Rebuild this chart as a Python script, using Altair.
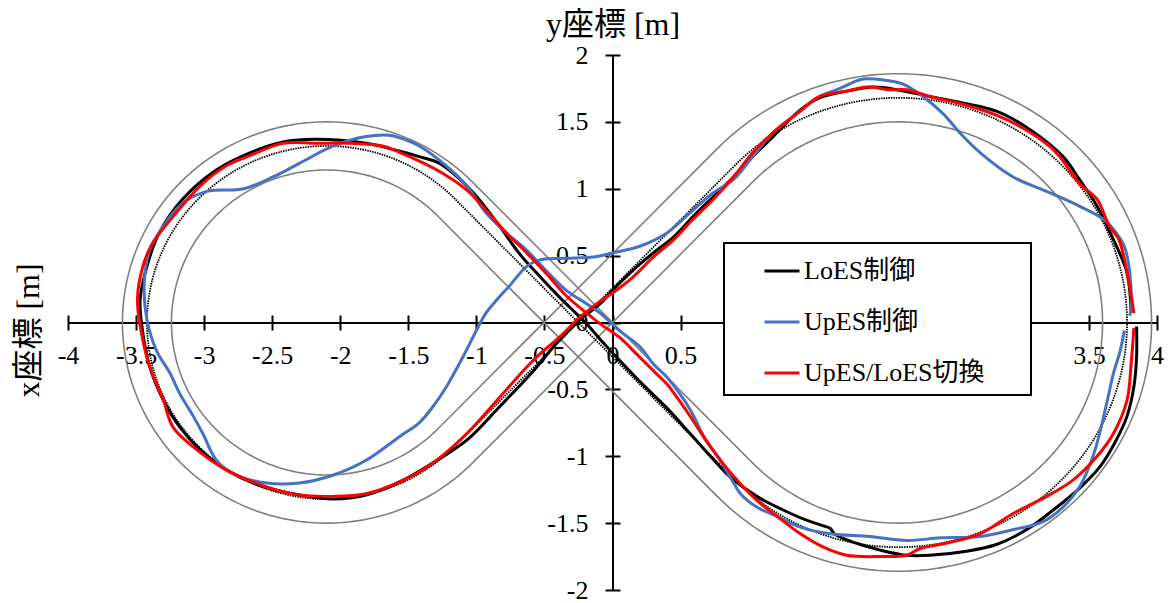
import numpy as np
import pandas as pd
import altair as alt

# ---- course layout (figure-eight: two loops joined by crossing straights) ----
LOOP_CENTER_X = 2.1                 # loops centred at (-2.1, 0) and (2.1, 0)
REFERENCE_RADII = (1.32, 1.68)      # target path (left loop, right loop)
EDGE_A_RADII = (1.50, 1.50)         # lane edge: left outer / right inner
EDGE_B_RADII = (1.14, 1.86)         # lane edge: left inner / right outer

# ---- measured trajectories ----
loes_x = [3.85, 3.85, 3.83, 3.78, 3.70, 3.58, 3.43, 3.24, 3.04, 2.82, 2.60, 2.33, 2.16, 1.96,
          1.89, 1.79, 1.63, 1.60, 1.55, 1.43, 1.25, 1.06, 0.86, 0.72, 0.57, 0.40, 0.19, -0.07,
          -0.19, -0.27, -0.39, -0.53, -0.68, -0.83, -0.98, -1.12, -1.27, -1.42, -1.56, -1.81,
          -2.18, -2.42, -2.66, -2.91, -3.16, -3.33, -3.42, -3.47, -3.45, -3.40, -3.30, -3.18,
          -3.03, -2.84, -2.59, -2.30, -2.05, -1.81, -1.56, -1.32, -1.07, -0.83, -0.58, -0.39,
          -0.24, -0.09, 0.00, 0.15, 0.30, 0.45, 0.59, 0.74, 0.89, 1.03, 1.18, 1.38, 1.52, 1.72,
          1.92, 2.09, 2.33, 2.58, 2.82, 3.07, 3.31, 3.43, 3.56, 3.68, 3.78, 3.81]
loes_y = [-0.03, -0.26, -0.48, -0.70, -0.88, -1.08, -1.24, -1.40, -1.55, -1.66, -1.71, -1.74,
          -1.74, -1.70, -1.68, -1.65, -1.58, -1.54, -1.52, -1.48, -1.40, -1.30, -1.15, -1.00,
          -0.83, -0.64, -0.43, -0.15, -0.01, 0.07, 0.19, 0.34, 0.51, 0.72, 0.92, 1.07, 1.19,
          1.24, 1.28, 1.34, 1.37, 1.35, 1.27, 1.14, 0.92, 0.67, 0.42, 0.17, -0.08, -0.33, -0.58,
          -0.78, -0.95, -1.10, -1.22, -1.29, -1.32, -1.29, -1.19, -1.05, -0.88, -0.63, -0.36,
          -0.13, 0.02, 0.14, 0.24, 0.39, 0.52, 0.64, 0.79, 0.94, 1.09, 1.24, 1.39, 1.59, 1.68,
          1.73, 1.76, 1.74, 1.69, 1.64, 1.58, 1.44, 1.24, 1.07, 0.87, 0.62, 0.37, 0.08]

upes_x = [3.76, 3.73, 3.68, 3.64, 3.59, 3.53, 3.43, 3.31, 3.16, 2.94, 2.70, 2.41, 2.16, 1.89,
          1.60, 1.38, 1.21, 1.06, 0.94, 0.89, 0.79, 0.67, 0.57, 0.40, 0.30, 0.20, 0.05, -0.09,
          -0.19, -0.34, -0.49, -0.63, -0.78, -0.93, -1.07, -1.22, -1.42, -1.56, -1.64, -1.81,
          -2.05, -2.30, -2.49, -2.71, -2.98, -3.16, -3.30, -3.40, -3.44, -3.42, -3.35, -3.25,
          -3.18, -3.08, -3.01, -2.91, -2.79, -2.54, -2.30, -2.05, -1.81, -1.56, -1.42, -1.32,
          -1.22, -1.10, -1.00, -0.93, -0.85, -0.76, -0.63, -0.53, -0.34, -0.14, 0.00, 0.20,
          0.40, 0.57, 0.74, 0.89, 1.03, 1.18, 1.38, 1.52, 1.67, 1.84, 2.01, 2.14, 2.28, 2.43,
          2.55, 2.70, 2.94, 3.19, 3.43, 3.61, 3.70, 3.76, 3.80, 3.81, 3.80]
upes_y = [-0.06, -0.21, -0.38, -0.56, -0.78, -1.00, -1.23, -1.38, -1.49, -1.55, -1.60, -1.61,
          -1.63, -1.60, -1.58, -1.53, -1.45, -1.38, -1.28, -1.20, -1.03, -0.85, -0.65, -0.41,
          -0.31, -0.18, -0.06, 0.07, 0.14, 0.24, 0.39, 0.54, 0.67, 0.82, 1.02, 1.17, 1.32, 1.38,
          1.40, 1.39, 1.32, 1.19, 1.09, 1.00, 0.98, 0.89, 0.72, 0.54, 0.29, 0.02, -0.21, -0.38,
          -0.53, -0.70, -0.83, -1.03, -1.13, -1.20, -1.20, -1.14, -1.03, -0.85, -0.75, -0.63,
          -0.48, -0.26, -0.06, 0.07, 0.17, 0.27, 0.42, 0.47, 0.48, 0.49, 0.52, 0.57, 0.67, 0.82,
          0.97, 1.07, 1.24, 1.42, 1.58, 1.69, 1.75, 1.82, 1.81, 1.78, 1.69, 1.56, 1.42, 1.27,
          1.09, 0.98, 0.87, 0.77, 0.67, 0.57, 0.37, 0.12, 0.05]

switch_x = [3.83, 3.81, 3.78, 3.68, 3.56, 3.38, 3.19, 2.94, 2.70, 2.45, 2.26, 2.16, 1.96, 1.72,
            1.55, 1.38, 1.21, 1.06, 0.89, 0.72, 0.57, 0.40, 0.35, 0.20, 0.05, -0.09, -0.19,
            -0.34, -0.49, -0.63, -0.78, -0.93, -1.07, -1.29, -1.56, -1.69, -1.93, -2.18, -2.42,
            -2.66, -2.84, -3.03, -3.23, -3.38, -3.45, -3.49, -3.46, -3.40, -3.30, -3.23, -3.08,
            -2.84, -2.54, -2.30, -2.05, -1.81, -1.56, -1.32, -1.07, -0.83, -0.58, -0.39, -0.24,
            -0.14, -0.09, 0.00, 0.15, 0.30, 0.45, 0.59, 0.74, 0.89, 1.03, 1.18, 1.38, 1.52, 1.72,
            1.87, 2.04, 2.16, 2.33, 2.58, 2.82, 3.07, 3.26, 3.43, 3.56, 3.65, 3.72, 3.79, 3.83]
switch_y = [-0.04, -0.31, -0.58, -0.83, -1.00, -1.18, -1.30, -1.43, -1.58, -1.65, -1.69, -1.74,
            -1.75, -1.74, -1.68, -1.58, -1.45, -1.33, -1.15, -0.93, -0.70, -0.46, -0.41, -0.26,
            -0.11, -0.01, 0.07, 0.20, 0.37, 0.52, 0.67, 0.84, 0.99, 1.14, 1.27, 1.32, 1.34, 1.34,
            1.34, 1.25, 1.17, 1.02, 0.79, 0.59, 0.42, 0.17, -0.08, -0.33, -0.58, -0.78, -0.93,
            -1.10, -1.23, -1.29, -1.30, -1.28, -1.19, -1.05, -0.83, -0.56, -0.28, -0.11, 0.04,
            0.12, 0.16, 0.22, 0.34, 0.49, 0.62, 0.77, 0.92, 1.09, 1.27, 1.42, 1.58, 1.69, 1.73,
            1.76, 1.74, 1.74, 1.69, 1.63, 1.55, 1.42, 1.27, 1.04, 0.92, 0.72, 0.62, 0.32, 0.07]

series_names = ["LoES制御", "UpES制御", "UpES/LoES切換"]
series_colors = ["#000000", "#4472C4", "#FF0000"]

x_ticks = [v / 2 for v in range(-8, 9)]
y_ticks = [v / 2 for v in range(-4, 5)]


def figure_eight(r_left, r_right, name, step_deg=1.0):
    """Closed figure-eight: left loop, crossing straight, right loop, crossing straight."""
    cx = LOOP_CENTER_X
    x0 = cx * (r_left - r_right) / (r_left + r_right)   # where the straights cross
    phi = np.arccos(r_left / (x0 + cx))                  # tangent-point angle
    n = int(np.degrees(2 * np.pi - 2 * phi) / step_deg) + 1
    t_l = np.linspace(phi, 2 * np.pi - phi, n)
    t_r = np.linspace(np.pi - phi, -np.pi + phi, n)
    xs = np.concatenate([-cx + r_left * np.cos(t_l), cx + r_right * np.cos(t_r), [-cx + r_left * np.cos(phi)]])
    ys = np.concatenate([r_left * np.sin(t_l), r_right * np.sin(t_r), [r_left * np.sin(phi)]])
    return pd.DataFrame({"x": xs, "y": ys, "i": np.arange(len(xs)), "path": name})


track_df = pd.concat([figure_eight(*EDGE_A_RADII, "edge_a"), figure_eight(*EDGE_B_RADII, "edge_b")])
ref_df = figure_eight(*REFERENCE_RADII, "reference")

traj_frames = []
for name, xs, ys in zip(series_names, [loes_x, upes_x, switch_x], [loes_y, upes_y, switch_y]):
    traj_frames.append(pd.DataFrame({"x": xs, "y": ys, "i": range(len(xs)), "series": name}))

# ---- layout ----
W, H = 1089, 535
FONT = "'Liberation Serif', 'Times New Roman', 'Noto Sans CJK JP', serif"

x_scale = alt.Scale(domain=[-4, 4], nice=False, zero=False)
y_scale = alt.Scale(domain=[-2, 2], nice=False, zero=False)

common_axis = dict(grid=False, tickColor="black", tickWidth=2, tickSize=7.5)

# x labels from 1 to 3 sit under the legend box, so they are left empty
x_axis_main = alt.Axis(
    orient="bottom", offset=-H / 2, values=x_ticks,
    labelExpr="datum.value >= 1 && datum.value <= 3 ? '' : datum.value + ''",
    domainColor="black", domainWidth=2, labelFont=FONT, labelFontSize=26, labelColor="black",
    labelPadding=12, labelFlush=False, labelOverlap=False,
    title="x座標 [m]", titleAngle=270, titleX=-30, titleY=7.5, titleAlign="center",
    titleBaseline="alphabetic", titleFont=FONT, titleFontSize=32, titleFontWeight="normal",
    titleColor="black", **common_axis)
y_axis_main = alt.Axis(
    orient="left", offset=-W / 2, values=y_ticks, labelExpr="datum.value + ''",
    domainColor="black", domainWidth=2, labelFont=FONT, labelFontSize=26, labelColor="black",
    labelPadding=17, labelFlush=False, labelOverlap=False,
    title="y座標 [m]", titleAngle=0, titleX=0, titleY=-21, titleAlign="center",
    titleBaseline="alphabetic", titleFont=FONT, titleFontSize=32, titleFontWeight="normal",
    titleColor="black", **common_axis)
# second pair of axes only adds the opposite half of each tick so ticks cross the axis line
x_axis_ticks = alt.Axis(orient="top", offset=-H / 2, values=x_ticks, labels=False,
                        domain=False, title=None, **common_axis)
y_axis_ticks = alt.Axis(orient="right", offset=-W / 2, values=y_ticks, labels=False,
                        domain=False, title=None, **common_axis)

track = alt.Chart(track_df).mark_line(color="#808080", strokeWidth=1.6).encode(
    x=alt.X("x:Q", scale=x_scale, axis=x_axis_main),
    y=alt.Y("y:Q", scale=y_scale, axis=y_axis_main),
    detail="path:N",
    order="i:Q",
)

reference = alt.Chart(ref_df).mark_line(color="black", strokeWidth=1.8, strokeDash=[1.5, 1.0]).encode(
    x=alt.X("x:Q", scale=x_scale, axis=x_axis_ticks),
    y=alt.Y("y:Q", scale=y_scale, axis=y_axis_ticks),
    order="i:Q",
)

# the blank right-hand legend title (its padding) widens the legend frame past the labels
legend = alt.Legend(
    title="\u2003", titleOrient="right", titleFontSize=26, titlePadding=37,
    orient="none", legendX=656, legendY=188,
    symbolType="stroke", symbolSize=1225, symbolStrokeWidth=3,
    labelFont=FONT, labelFontSize=26, labelColor="black", labelLimit=400,
    padding=9, symbolOffset=30, labelOffset=3, rowPadding=19,
    strokeColor="black", fillColor="white",
)

traj_layers = []
for frame in traj_frames:
    traj_layers.append(
        alt.Chart(frame).mark_line(strokeWidth=3, interpolate="catmull-rom").encode(
            x=alt.X("x:Q", scale=x_scale, axis=None),
            y=alt.Y("y:Q", scale=y_scale, axis=None),
            color=alt.Color("series:N", scale=alt.Scale(domain=series_names, range=series_colors),
                            legend=legend),
            order="i:Q",
        )
    )

chart = (
    alt.layer(track, reference, *traj_layers)
    .resolve_axis(x="independent", y="independent")
    .properties(
        width=W, height=H,
        autosize=alt.AutoSizeParams(type="none"),
        padding={"left": 68, "top": 55, "right": 11, "bottom": 13},
    )
    .configure_view(strokeWidth=0)
    .configure_legend(strokeWidth=2)
)

chart.save("out.html", embed_options={"renderer": "svg", "actions": False})
